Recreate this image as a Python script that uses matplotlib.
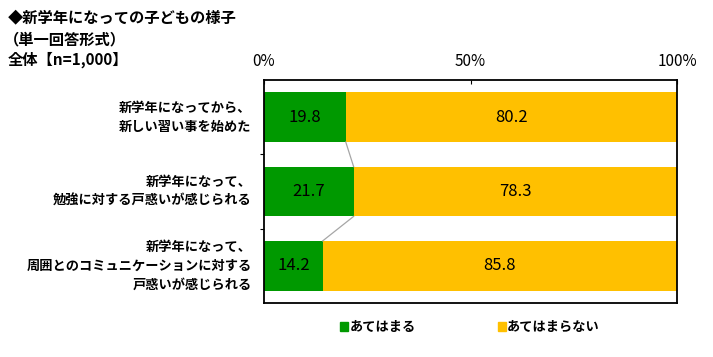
import numpy as np
import matplotlib.pyplot as plt
import matplotlib.patches as mpatches

plt.rcParams['font.family'] = ['Noto Sans CJK JP', 'DejaVu Sans']

# data
categories = ['新学年になってから、\n新しい習い事を始めた',
              '新学年になって、\n勉強に対する戸惑いが感じられる',
              '新学年になって、\n周囲とのコミュニケーションに対する\n戸惑いが感じられる']
yes_vals = [19.8, 21.7, 14.2]
no_vals = [80.2, 78.3, 85.8]
series_names = ['あてはまる', 'あてはまらない']
xticks = [0, 50, 100]
xtick_labels = ['0%', '50%', '100%']

green = '#009900'
yellow = '#FFC000'

fig = plt.figure(figsize=(7.13, 3.57), dpi=100)
ax = fig.add_axes([264/713, 54/357, 413/713, 223/357])

y = np.arange(len(categories))
h = 0.67
ax.barh(y, yes_vals, height=h, color=green, edgecolor='none')
ax.barh(y, no_vals, left=yes_vals, height=h, color=yellow, edgecolor='none')

# connector lines between green bar ends
for i in range(len(categories) - 1):
    ax.plot([yes_vals[i], yes_vals[i+1]], [y[i] + h/2, y[i+1] - h/2],
            color='#a6a6a6', lw=0.9, zorder=1)

for i in range(len(categories)):
    ax.text(yes_vals[i]/2, y[i], f'{yes_vals[i]:.1f}', ha='center', va='center', fontsize=12)
    ax.text(yes_vals[i] + no_vals[i]/2, y[i], f'{no_vals[i]:.1f}', ha='center', va='center', fontsize=12)

ax.set_xlim(0, 100)
ax.set_ylim(len(categories) - 0.5, -0.5)
ax.xaxis.tick_top()
ax.set_xticks(xticks)
ax.set_xticklabels(xtick_labels, fontsize=11)
ax.tick_params(axis='x', direction='in', length=3, width=0.8, pad=7)
ax.set_yticks(np.arange(len(categories) - 1) + 0.5)
ax.set_yticklabels([])
ax.tick_params(axis='y', direction='out', length=3, width=0.8)
for s in ax.spines.values():
    s.set_linewidth(1.3)

for i, c in enumerate(categories):
    ax.text(-3, y[i], c, ha='right', va='center', fontsize=9.5, fontweight='bold',
            linespacing=1.45, clip_on=False)

fig.text(8/713, 1 - 17/357, '◆新学年になっての子どもの様子', fontsize=11, fontweight='bold', va='center')
fig.text(4/713, 1 - 39/357, '（単一回答形式）', fontsize=11, fontweight='bold', va='center')
fig.text(8/713, 1 - 60/357, '全体【n=1,000】', fontsize=11, fontweight='bold', va='center')

handles = [mpatches.Patch(color=green), mpatches.Patch(color=yellow)]
leg = fig.legend(handles, series_names, loc='center', bbox_to_anchor=(470/713, 1 - 327/357),
                 ncol=2, frameon=False, handlelength=0.6, handleheight=0.6, handletextpad=0.1,
                 columnspacing=6.2, prop={'size': 9.5, 'weight': 'bold'})

fig.savefig('out.png', dpi=100)
